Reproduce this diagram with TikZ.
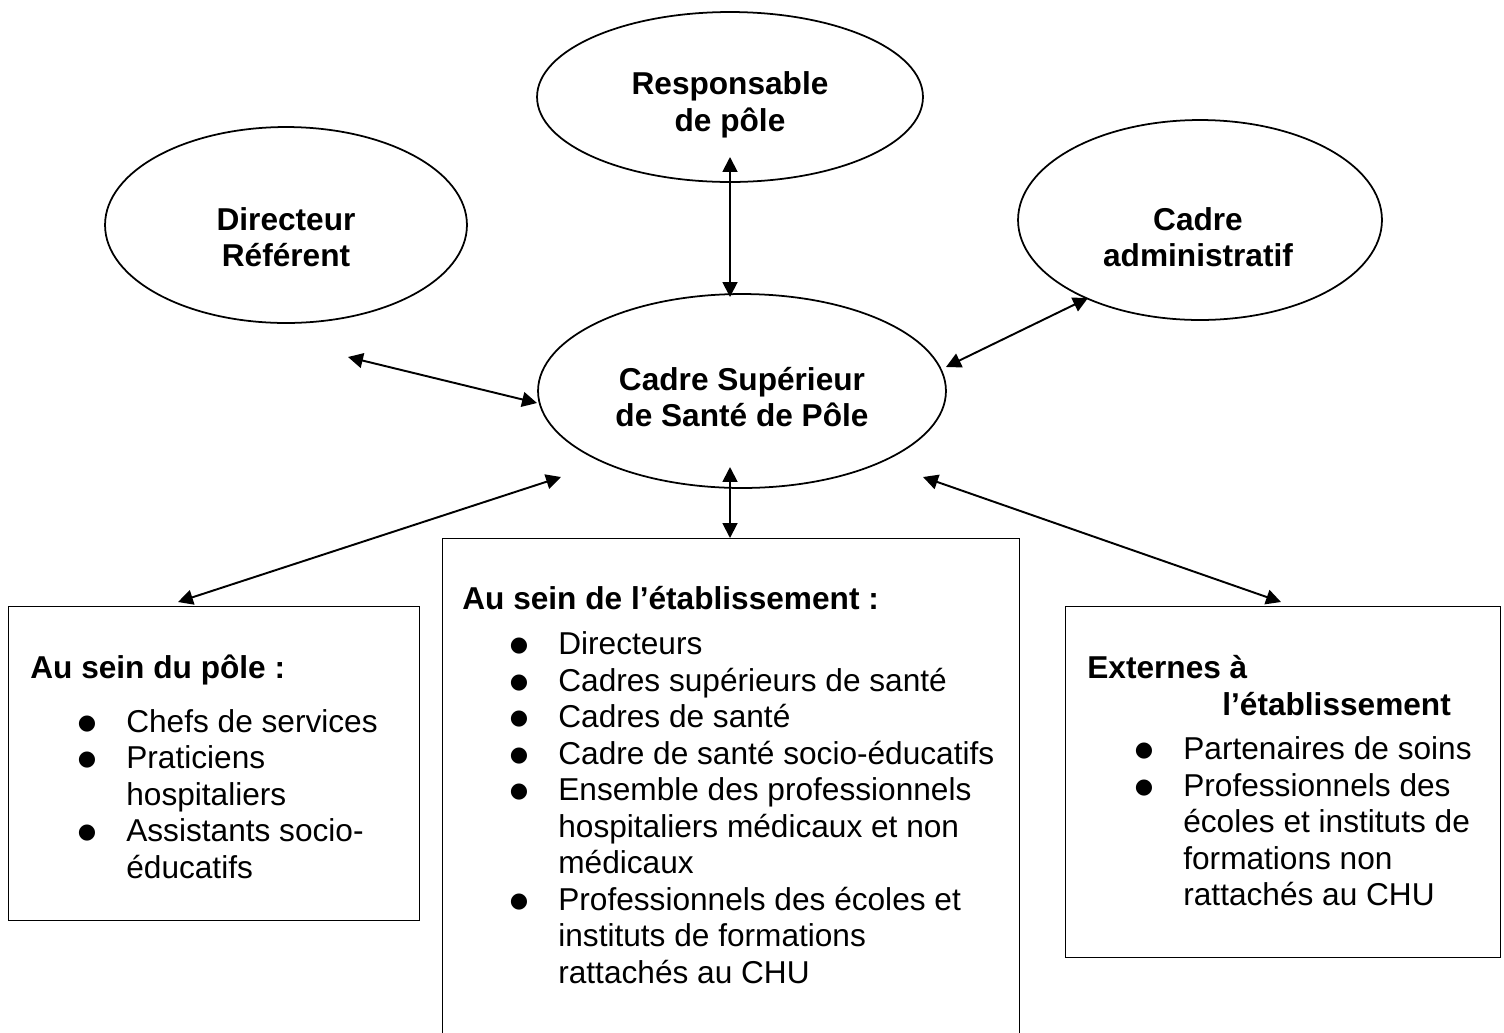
\documentclass[tikz,border=0pt]{standalone}
\usepackage{fontspec}
\setmainfont{Liberation Sans}
\newfontfamily\dotfont{DejaVu Sans}
\usetikzlibrary{shapes.geometric,arrows.meta}

\newcommand{\blt}{\makebox[1.92cm][l]{\hspace{0.95cm}\raisebox{0.06cm}{\dotfont\fontsize{12}{12}\selectfont ●}}}
\newcommand{\listind}{\hspace*{1.92cm}}

\begin{document}
\begin{tikzpicture}[x=0.02cm, y=-0.02cm,
    every node/.style={font=\fontsize{18}{20.8}\selectfont},
    bubble/.style={ellipse, draw, line width=1pt, inner sep=0pt},
    lbl/.style={align=center, font=\fontsize{18}{20.8}\selectfont\bfseries},
    box/.style={rectangle, draw, line width=0.7pt, inner sep=0pt, anchor=north west},
    list/.style={align=left, inner sep=0pt, anchor=north west},
    link/.style={{Triangle[length=8.5pt,width=8.5pt]}-{Triangle[length=8.5pt,width=8.5pt]}, line width=1.1pt}]
    \useasboundingbox (0,0) rectangle (1504,1032);

    % Ellipses
    \node[bubble, minimum width=7.72cm, minimum height=3.4cm] (resp) at (730,97) {};
    \node[lbl] (resplbl) at (730,105) {Responsable\\de pôle};
    \node[bubble, minimum width=7.24cm, minimum height=3.92cm] (dir) at (286,225) {};
    \node[lbl] (dirlbl) at (286,237) {Directeur\\Référent};
    \node[bubble, minimum width=7.28cm, minimum height=4cm] (adm) at (1200,220) {};
    \node[lbl] (admlbl) at (1198,237) {Cadre\\administratif};
    \node[bubble, minimum width=8.16cm, minimum height=3.88cm] (css) at (742,391) {};
    \node[lbl] (csslbl) at (742,397) {Cadre Supérieur\\de Santé de Pôle};

    % Boxes
    \node[box, minimum width=8.22cm, minimum height=6.28cm] (pole) at (8,606) {};
    \node[list] (poletxt) at (30,655) {\textbf{Au sein du pôle :}\\[0.33cm]
        \blt Chefs de services\\ \blt Praticiens\\ \listind hospitaliers\\
        \blt Assistants socio-\\ \listind éducatifs};
    \node[box, minimum width=11.54cm, minimum height=10.8cm] (etab) at (442,538) {};
    \node[list] (etabtxt) at (462,586) {\textbf{Au sein de l’établissement :}\\[0.17cm]
        \blt Directeurs\\ \blt Cadres supérieurs de santé\\ \blt Cadres de santé\\
        \blt Cadre de santé socio-éducatifs\\ \blt Ensemble des professionnels\\
        \listind hospitaliers médicaux et non\\ \listind médicaux\\
        \blt Professionnels des écoles et\\ \listind instituts de formations\\
        \listind rattachés au CHU};
    \node[box, minimum width=8.7cm, minimum height=7.02cm] (ext) at (1065,606) {};
    \node[list] (exttxt) at (1087,655) {\textbf{Externes à}\\ \hspace*{2.7cm}\textbf{l’établissement}\\[0.16cm]
        \blt Partenaires de soins\\ \blt Professionnels des\\ \listind écoles et instituts de\\
        \listind formations non\\ \listind rattachés au CHU};

    % Arrows
    \coordinate (resp-a) at (730,157);  \coordinate (resp-b) at (730,297);
    \coordinate (dir-a) at (348,357);   \coordinate (dir-b) at (537,403);
    \coordinate (adm-a) at (1088,298);  \coordinate (adm-b) at (946,367);
    \coordinate (pole-a) at (178,602);  \coordinate (pole-b) at (561,477);
    \coordinate (etab-a) at (730,538);  \coordinate (etab-b) at (730,467);
    \coordinate (ext-a) at (1281,602);  \coordinate (ext-b) at (923,477);
    \draw[link] (resp-a) -- (resp-b);
    \draw[link] (dir-a) -- (dir-b);
    \draw[link] (adm-a) -- (adm-b);
    \draw[link] (pole-a) -- (pole-b);
    \draw[link] (etab-a) -- (etab-b);
    \draw[link] (ext-a) -- (ext-b);
\end{tikzpicture}
\end{document}
